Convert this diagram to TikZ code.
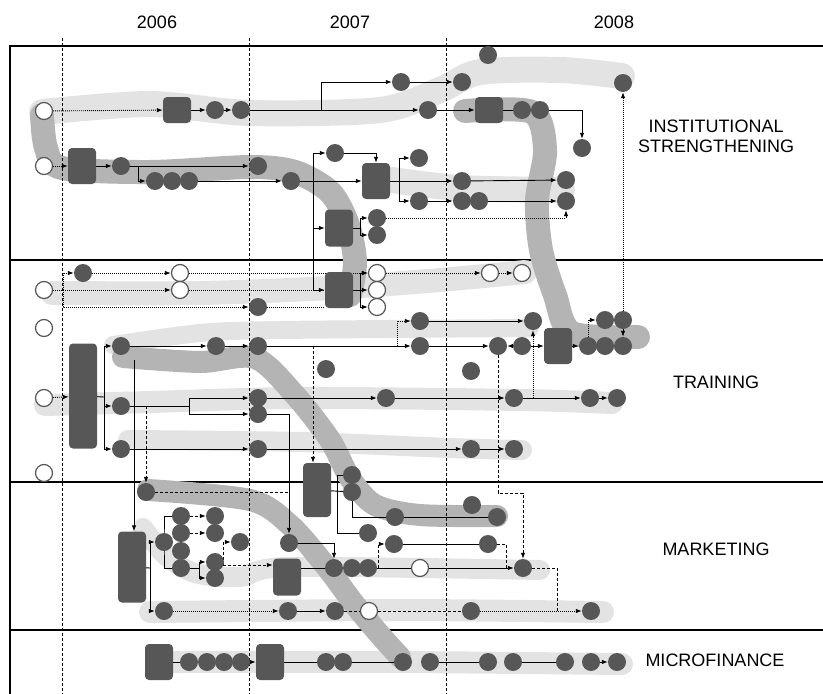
\documentclass[tikz,border=0pt]{standalone}
\usepackage{fontspec}
\setmainfont{Liberation Sans}
\usetikzlibrary{arrows.meta}
\pgfdeclarelayer{frame}
\pgfdeclarelayer{bands}
\pgfdeclarelayer{wires}
\pgfsetlayers{frame,bands,wires,main}
\definecolor{actgray}{HTML}{575757}
\definecolor{lightband}{HTML}{E3E3E3}
\definecolor{darkband}{HTML}{B4B4B4}

\begin{document}
\begin{tikzpicture}[x=1pt, y=-1pt, font=\fontsize{18}{20}\selectfont,
    act/.style={circle, fill=actgray, minimum size=18pt, inner sep=0pt},
    evt/.style={circle, draw=actgray, fill=white, line width=1.2pt, minimum size=17pt, inner sep=0pt},
    blk/.style={rounded corners=4pt, fill=actgray, minimum width=28pt, minimum height=#1, inner sep=0pt},
    arr/.style={-{Latex[length=6pt,width=4.5pt]}},
    dots/.style={dash pattern=on 1pt off 1pt},
    dsh/.style={dash pattern=on 3pt off 2pt},
    lband/.style={draw=lightband, line width=#1, line cap=round, line join=round},
    lband/.default=22pt,
    dband/.style={draw=darkband, line width=#1, line cap=round, line join=round},
    dband/.default=22pt,
    lane/.style={line width=2.6pt},
    year/.style={line width=0.8pt, dash pattern=on 3pt off 2pt}]
  \useasboundingbox (0,0) rectangle (823,694);

  \begin{pgfonlayer}{frame}
    \draw[lane] (10,694) -- (10,46) -- (823,46);
    \draw[lane] (10,260) -- (823,260);
    \draw[lane] (10,482) -- (823,482);
    \draw[lane] (10,630) -- (823,630);
  \end{pgfonlayer}

  \begin{pgfonlayer}{bands}
    \draw[lband=26pt] plot[smooth, tension=0.5] coordinates {(42,112) (150,104) (250,113) (380,110) (440,90) (480,72) (560,70) (622,76)};
    \draw[lband=26pt] plot[smooth, tension=0.5] coordinates {(392,180) (460,188) (562,190)};
    \draw[lband=24pt] plot[smooth, tension=0.5] coordinates {(52,293) (200,293) (330,288) (440,280) (525,272)};
    \draw[lband=18pt] plot[smooth, tension=0.5] coordinates {(113,345) (200,333) (280,330) (530,328)};
    \draw[lband] plot[smooth, tension=0.5] coordinates {(45,405) (150,402) (300,398) (520,400) (612,403)};
    \draw[lband=20pt] plot[smooth, tension=0.5] coordinates {(128,440) (300,442) (450,448) (522,450)};
    \draw[lband=20pt] plot[smooth, tension=0.5] coordinates {(143,528) (165,555) (195,573) (240,577) (290,567) (540,570)};
    \draw[lband] plot[smooth, tension=0.5] coordinates {(150,612) (400,610) (603,612)};
    \draw[lband] plot[smooth, tension=0.5] coordinates {(175,662) (400,662) (622,664)};
    \draw[dband=24pt] plot[smooth, tension=0.5] coordinates {(42,115) (46,148) (62,168) (150,172) (250,167) (295,172) (330,192) (348,225) (355,262) (350,295)};
    \draw[dband=24pt] plot[smooth, tension=0.5] coordinates {(465,111) (532,112) (545,150) (537,200) (541,250) (555,295) (572,333) (638,337)};
    \draw[dband] plot[smooth, tension=0.5] coordinates {(123,357) (200,362) (255,358) (295,395) (330,440) (350,478) (375,505) (420,515) (497,516)};
    \draw[dband] plot[smooth, tension=0.5] coordinates {(148,490) (250,500) (290,525) (325,565) (355,605) (380,635) (400,657)};
  \end{pgfonlayer}

  \node (y6) at (157,22) {2006};
  \node (y7) at (350,22) {2007};
  \node (y8) at (614,22) {2008};
  \node[align=center] (lis) at (716,136) {INSTITUTIONAL\\STRENGTHENING};
  \node (ltr) at (716,382) {TRAINING};
  \node (lmk) at (716,549) {MARKETING};
  \node (lmf) at (715,660) {MICROFINANCE};

  \node[evt] (iw1) at (44,111) {};
  \node[blk=26pt] (ib1) at (177,110) {};
  \node[act] (i1) at (215,110) {};
  \node[act] (i2) at (241,110) {};
  \node[act] (i3) at (401,82) {};
  \node[act] (i4) at (462,82) {};
  \node[act] (i5) at (488,55) {};
  \node[act] (i6) at (428,110) {};
  \node[blk=26pt] (ib2) at (489,110) {};
  \node[act] (i7) at (522,110) {};
  \node[act] (i8) at (540,110) {};
  \node[act] (i9) at (582,148) {};
  \node[act] (i10) at (623,83) {};
  \node[evt] (iw2) at (44,166) {};
  \node[blk=36pt] (ib3) at (82,166) {};
  \node[act] (i11) at (121,166) {};
  \node[act] (i12) at (258,166) {};
  \node[act] (i13) at (155,181) {};
  \node[act] (i14) at (172,181) {};
  \node[act] (i15) at (189,181) {};
  \node[act] (i16) at (291,181) {};
  \node[blk=36pt] (ib4) at (376,181) {};
  \node[act] (i17) at (335,153) {};
  \node[act] (i18) at (419,158) {};
  \node[act] (i19) at (419,201) {};
  \node[act] (i20) at (462,181) {};
  \node[act] (i21) at (462,201) {};
  \node[act] (i22) at (479,201) {};
  \node[act] (i23) at (566,180) {};
  \node[act] (i24) at (566,201) {};
  \node[blk=37pt] (ib5) at (339,228) {};
  \node[act] (i25) at (377,218) {};
  \node[act] (i26) at (377,235) {};

  \node[act] (t1) at (83,273) {};
  \node[evt] (tw1) at (44,290) {};
  \node[evt] (tw2) at (180,273) {};
  \node[evt] (tw3) at (180,290) {};
  \node[act] (t2) at (258,307) {};
  \node[blk=36pt] (tb1) at (339,290) {};
  \node[evt] (tw4) at (377,273) {};
  \node[evt] (tw5) at (377,290) {};
  \node[evt] (tw6) at (377,307) {};
  \node[evt] (tw7) at (490,273) {};
  \node[evt] (tw8) at (522,273) {};
  \node[evt] (tw9) at (44,328) {};
  \node[evt] (tw10) at (44,398) {};
  \node[evt] (tw11) at (44,473) {};
  \node[blk=105pt] (tb2) at (83,396) {};
  \node[act] (t3) at (121,346) {};
  \node[act] (t4) at (121,406) {};
  \node[act] (t5) at (121,449) {};
  \node[act] (t6) at (216,346) {};
  \node[act] (t7) at (258,346) {};
  \node[act] (t8) at (420,346) {};
  \node[act] (t9) at (498,346) {};
  \node[act] (t10) at (522,346) {};
  \node[act] (t11) at (420,321) {};
  \node[act] (t12) at (533,321) {};
  \node[blk=36pt] (tb3) at (558,346) {};
  \node[act] (t13) at (588,346) {};
  \node[act] (t14) at (605,346) {};
  \node[act] (t15) at (623,346) {};
  \node[act] (t16) at (605,320) {};
  \node[act] (t17) at (623,320) {};
  \node[act] (t18) at (326,369) {};
  \node[act] (t19) at (471,371) {};
  \node[act] (t20) at (258,398) {};
  \node[act] (t21) at (258,414) {};
  \node[act] (t22) at (386,398) {};
  \node[act] (t23) at (514,398) {};
  \node[act] (t24) at (590,398) {};
  \node[act] (t25) at (617,398) {};
  \node[act] (t28) at (258,449) {};
  \node[act] (t26) at (471,449) {};
  \node[act] (t27) at (514,449) {};

  \node[act] (m1) at (146,492) {};
  \node[blk=71pt] (mb1) at (132,567) {};
  \node[act] (m2) at (164,542) {};
  \node[act] (m3) at (164,611) {};
  \node[act] (m4) at (181,516) {};
  \node[act] (m5) at (181,533) {};
  \node[act] (m6) at (181,551) {};
  \node[act] (m7) at (181,568) {};
  \node[act] (m8) at (215,516) {};
  \node[act] (m9) at (215,533) {};
  \node[act] (m10) at (215,562) {};
  \node[act] (m11) at (215,578) {};
  \node[act] (m12) at (240,542) {};
  \node[blk=37pt] (mb2) at (287,577) {};
  \node[blk=54pt] (mb3) at (317,490) {};
  \node[act] (m13) at (352,475) {};
  \node[act] (m14) at (352,492) {};
  \node[act] (m15) at (368,533) {};
  \node[act] (m16) at (395,517) {};
  \node[act] (m17) at (497,517) {};
  \node[act] (m18) at (472,505) {};
  \node[act] (m19) at (289,543) {};
  \node[act] (m20) at (334,568) {};
  \node[act] (m21) at (352,568) {};
  \node[act] (m22) at (368,568) {};
  \node[evt] (mw1) at (420,568) {};
  \node[act] (m23) at (523,568) {};
  \node[act] (m24) at (394,544) {};
  \node[act] (m25) at (488,544) {};
  \node[act] (m26) at (288,611) {};
  \node[act] (m27) at (335,611) {};
  \node[evt] (mw2) at (369,611) {};
  \node[act] (m28) at (471,611) {};
  \node[act] (m29) at (591,611) {};

  \node[blk=36pt] (fb1) at (159,662) {};
  \node[act] (f1) at (189,662) {};
  \node[act] (f2) at (207,662) {};
  \node[act] (f3) at (224,662) {};
  \node[act] (f4) at (241,662) {};
  \node[blk=36pt] (fb2) at (270,662) {};
  \node[act] (f5) at (326,662) {};
  \node[act] (f6) at (343,662) {};
  \node[act] (f7) at (403,662) {};
  \node[act] (f8) at (430,662) {};
  \node[act] (f9) at (488,662) {};
  \node[act] (f10) at (513,662) {};
  \node[act] (f11) at (565,662) {};
  \node[act] (f12) at (591,662) {};
  \node[act] (f13) at (617,662) {};

  \coordinate (ij1) at (321,110);
  \coordinate (ij2) at (138,166);
  \coordinate (ij3) at (313,181);
  \coordinate (ij4) at (399,181);
  \coordinate (ij5) at (360,228);
  \coordinate (tj1) at (63,290);
  \coordinate (tj2) at (360,290);
  \coordinate (tj3) at (104,397);
  \coordinate (tj4) at (397,346);
  \coordinate (tj5) at (189,406);
  \coordinate (tj6) at (146,406);
  \coordinate (tj7) at (134,360);
  \coordinate (tj8) at (313,346);
  \coordinate (tj9) at (498,493);
  \coordinate (mj1) at (289,492);
  \coordinate (mj2) at (150,568);
  \coordinate (mj3) at (199,568);
  \coordinate (mj4) at (223,565);
  \coordinate (mj5) at (337,492);
  \coordinate (mj6) at (378,568);
  \coordinate (mj7) at (506,568);
  \coordinate (mj8) at (557,611);

  \begin{pgfonlayer}{wires}
  \begin{scope}[line width=0.9pt]
    \draw[year] (62,38) -- (62,694);
    \draw[year] (249,38) -- (249,694);
    \draw[year] (446,38) -- (446,694);

    \draw[dots, arr] (iw1) -- (ib1);
    \draw[arr] (ib1) -- (i1);
    \draw[arr] (i1) -- (i2);
    \draw[arr] (i2) -- (i6);
    \draw[arr] (ij1) |- (i3);
    \draw[arr] (i3) -- (i4);
    \draw[arr] (i6) -- (ib2);
    \draw (ib2) -- (i7);
    \draw[arr] (i8) -| (i9);
    \draw[dots, arr] (iw2) -- (ib3);
    \draw[arr] (ib3) -- (i11);
    \draw[arr] (i11) -- (i12);
    \draw[arr] (ij2) |- (i13);
    \draw[arr] (i15) -- (i16);
    \draw[arr] (i16) -- (ib4);
    \draw[arr] (ij3) |- (i17);
    \draw[arr] (ij3) |- (ib5);
    \draw[arr] (ij3) |- (tb1);
    \draw[arr] (i17) -| (ib4);
    \draw[arr] (ib4) -- (i20);
    \draw[arr] (ij4) |- (i18);
    \draw[arr] (ij4) |- (i19);
    \draw[arr] (i19) -- (i21);
    \draw[arr] (i20) -- (i23);
    \draw[arr] (i22) -- (i24);
    \draw (ib5) -- (ij5);
    \draw[arr] (ij5) |- (i25);
    \draw[arr] (ij5) |- (i26);
    \draw[dots, arr] (i25) -| (i24);
    \draw[dots, arr] (t17) -- (i10);

    \draw[dots, arr] (tw1) -- (tw3);
    \draw[dots, arr] (tj1) |- (t1);
    \draw[dots, arr] (tj1) |- (t2);
    \draw[dots] (t2) -- (t2 -| tb1.west);
    \draw[dots, arr] (t1) -- (tw2);
    \draw[dots, arr] (tw2) -- (tw4);
    \draw[dots] (tw3) -- (tb1);
    \draw (tb1) -- (tj2);
    \draw[arr] (tj2) |- (tw4);
    \draw[arr] (tj2) |- (tw5);
    \draw[arr] (tj2) |- (tw6);
    \draw[dots, arr] (tw4) -- (tw7);
    \draw[dots, arr] (tw7) -- (tw8);
    \draw[dots, arr] (tw10) -- (tb2);
    \draw (tb2) -- (tj3);
    \draw[arr] (tj3) |- (t3);
    \draw[arr] (tj3) |- (t4);
    \draw[arr] (tj3) |- (t5);
    \draw[arr] (t3) -- (t6);
    \draw[arr] (t6) -- (t7);
    \draw[arr] (t7) -- (t8);
    \draw[arr] (t8) -- (t9);
    \draw[arr] (t10) -- (t9);
    \draw[arr] (t10) -- (tb3);
    \draw[arr] (tb3) -- (t13);
    \draw[dots, arr] (tj4) |- (t11);
    \draw[arr] (t11) -- (t12);
    \draw[dots, arr] (t12 |- t23) -- (t12);
    \draw[dots, arr] (t13) |- (t16);
    \draw[arr] (t17) -- (t15);
    \draw (t4) -- (tj5);
    \draw[arr] (tj5) |- (t20);
    \draw[arr] (tj5) |- (t21);
    \draw[dsh, arr] (tj6) -- (m1);
    \draw[arr] (tj7) -- (tj7 |- mb1.north);
    \draw[dsh, arr] (tj8) -- (tj8 |- mb3.north);
    \draw[dsh, arr] (t9) -- (tj9) -| (m23);
    \draw[arr] (t20) -- (t22);
    \draw[arr] (t22) -- (t23);
    \draw[arr] (t23) -- (t24);
    \draw[arr] (t24) -- (t25);
    \draw[arr] (t21) -| (m19);
    \draw[arr] (t5) -- (t28);
    \draw[arr] (t28) -- (t26);
    \draw[arr] (t26) -- (t27);

    \draw[dsh] (m1) -- (mj1);
    \draw (mb1) -- (mj2);
    \draw[arr] (mj2) |- (m2);
    \draw[arr] (mj2) |- (m3);
    \draw (m4) -| (m2.center) |- (m7);
    \draw[dsh, arr] (m4) -- (m8);
    \draw[dsh, arr] (m5) -- (m9);
    \draw (m7) -- (mj3);
    \draw[arr] (mj3) |- (m10);
    \draw[arr] (mj3) |- (m11);
    \draw[dsh, arr] (mj4) |- (m12);
    \draw[dsh, arr] (mj4) -- (mj4 -| mb2.west);
    \draw (mb3) -- (m14);
    \draw (mj5) |- (m13);
    \draw (mj5) |- (m15);
    \draw (m14) |- (m16);
    \draw (m16) -- (m17);
    \draw[arr] (m19) -| (m20);
    \draw (mb2.east |- m20) -- (m20);
    \draw (m22) -- (mw1);
    \draw[arr] (mw1) -- (m23);
    \draw[dsh, arr] (mj6) |- (m24);
    \draw (m24) -- (m25);
    \draw[dsh] (m25) -| (mj7);
    \draw[dsh] (m23) -| (mj8);
    \draw[dots, arr] (m3) -- (m26);
    \draw[arr] (m26) -- (m27);
    \draw[dsh] (m27) -- (mw2);
    \draw[dsh] (mw2) -- (m28);
    \draw[dots, arr] (m28) -- (m29);

    \draw (fb1) -- (f1);
    \draw[arr] (f4) -- (fb2);
    \draw (fb2) -- (f5);
    \draw (f6) -- (f7);
    \draw (f8) -- (f9);
    \draw (f10) -- (f11);
    \draw[arr] (f12) -- (f13);
  \end{scope}
  \end{pgfonlayer}
\end{tikzpicture}
\end{document}
